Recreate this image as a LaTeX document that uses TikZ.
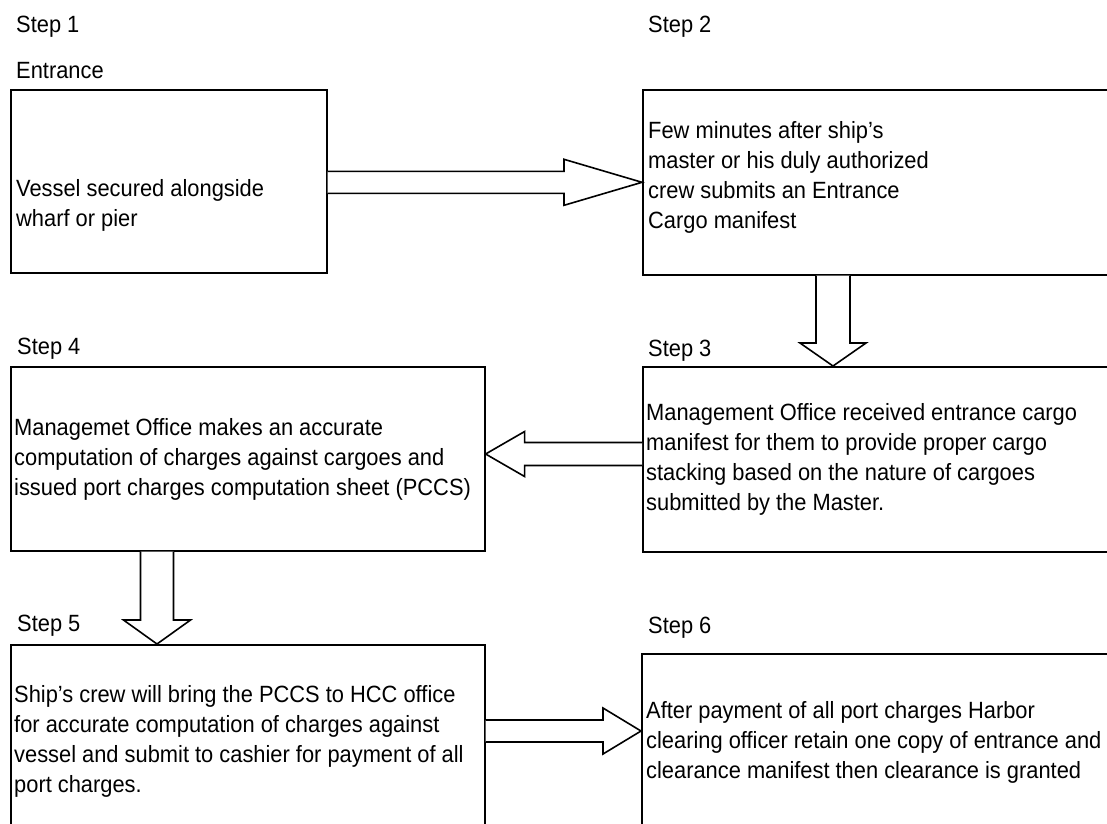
\documentclass[tikz,border=0pt]{standalone}
\usepackage{fontspec}
\setmainfont{Liberation Sans}[FakeStretch=0.93]
\usetikzlibrary{calc}
\begin{document}
\begin{tikzpicture}[x=1pt,y=-1pt,
  box/.style={draw, line width=1.6pt, inner sep=0pt, anchor=north west},
  % multi-line texts are placed by the baseline of their last line
  txt/.style={anchor=base west, inner sep=0pt, align=left,
              font=\fontsize{23.5}{30.3}\selectfont},
  lbl/.style={anchor=base west, inner sep=0pt, font=\fontsize{23.5}{28}\selectfont},
  blk/.style={draw, line width=1.6pt, fill=white, line join=miter}]
\useasboundingbox (0,0) rectangle (1107,823);
\clip (0,0) rectangle (1107,823);

% step boxes
\node[box, minimum width=316, minimum height=183] (b1) at (10,89) {};
\node[box, minimum width=480, minimum height=185] (b2) at (642,89) {};
\node[box, minimum width=480, minimum height=185] (b3) at (642,366) {};
\node[box, minimum width=474, minimum height=184] (b4) at (10,366) {};
\node[box, minimum width=474, minimum height=200] (b5) at (10,644) {};
\node[box, minimum width=480, minimum height=200] (b6) at (641,653) {};

% step labels
\node[lbl] (l1) at (16,32) {Step 1};
\node[lbl] (l1e) at (16,78) {Entrance};
\node[lbl] (l2) at (648,32) {Step 2};
\node[lbl] (l4) at (17,354) {Step 4};
\node[lbl] (l3) at (648,356) {Step 3};
\node[lbl] (l5) at (17,631) {Step 5};
\node[lbl] (l6) at (648,633) {Step 6};

% box texts
\node[txt] (t1) at (16,226.3) {Vessel secured alongside\\wharf or pier};
\node[txt] (t2) at (648,228.9) {Few minutes after ship's\\master or his duly authorized\\crew submits an Entrance\\Cargo manifest};
\node[txt] (t3) at (646,510.9) {Management Office received entrance cargo\\manifest for them to provide proper cargo\\stacking based on the nature of cargoes\\submitted by the Master.};
\node[txt] (t4) at (14,495.6) {Managemet Office makes an accurate\\computation of charges against cargoes and\\issued port charges computation sheet (PCCS)};
\node[txt] (t5) at (14,792.9) {Ship's crew will bring the PCCS to HCC office\\for accurate computation of charges against\\vessel and submit to cashier for payment of all\\port charges.};
\node[txt] (t6) at (646,778.6) {After payment of all port charges Harbor\\clearing officer retain one copy of entrance and\\clearance manifest then clearance is granted};

% block arrows between the boxes
% 1 -> 2 (right)
\coordinate (a1t) at (b2.west);
\coordinate (a1s) at (b1.east |- a1t);
\draw[blk] ($(a1s)+(0,-11)$) -- ($(a1t)+(-78,-11)$) -- ($(a1t)+(-78,-23)$) -- (a1t)
  -- ($(a1t)+(-78,23)$) -- ($(a1t)+(-78,11)$) -- ($(a1s)+(0,11)$);
% 2 -> 3 (down)
\coordinate (a2t) at ($(b3.north west)+(191,0)$);
\coordinate (a2s) at ($(b2.south west)+(191,0)$);
\draw[blk] ($(a2s)+(-17,0)$) -- ($(a2t)+(-17,-23)$) -- ($(a2t)+(-33,-23)$) -- (a2t)
  -- ($(a2t)+(33,-23)$) -- ($(a2t)+(17,-23)$) -- ($(a2s)+(17,0)$);
% 3 -> 4 (left)
\coordinate (a3t) at ($(b4.north east)+(0,88)$);
\coordinate (a3s) at (b3.west |- a3t);
\draw[blk] ($(a3s)+(0,-11.5)$) -- ($(a3t)+(39,-11.5)$) -- ($(a3t)+(39,-22.5)$) -- (a3t)
  -- ($(a3t)+(39,22.5)$) -- ($(a3t)+(39,11.5)$) -- ($(a3s)+(0,11.5)$);
% 4 -> 5 (down)
\coordinate (a4t) at ($(b5.north west)+(147,0)$);
\coordinate (a4s) at ($(b4.south west)+(147,0)$);
\draw[blk] ($(a4s)+(-16.5,0)$) -- ($(a4t)+(-16.5,-24)$) -- ($(a4t)+(-33.5,-24)$) -- (a4t)
  -- ($(a4t)+(33.5,-24)$) -- ($(a4t)+(16.5,-24)$) -- ($(a4s)+(16.5,0)$);
% 5 -> 6 (right)
\coordinate (a5t) at ($(b6.north west)+(0,78)$);
\coordinate (a5s) at (b5.east |- a5t);
\draw[blk] ($(a5s)+(0,-11)$) -- ($(a5t)+(-38,-11)$) -- ($(a5t)+(-38,-23)$) -- (a5t)
  -- ($(a5t)+(-38,23)$) -- ($(a5t)+(-38,11)$) -- ($(a5s)+(0,11)$);
\end{tikzpicture}
\end{document}
